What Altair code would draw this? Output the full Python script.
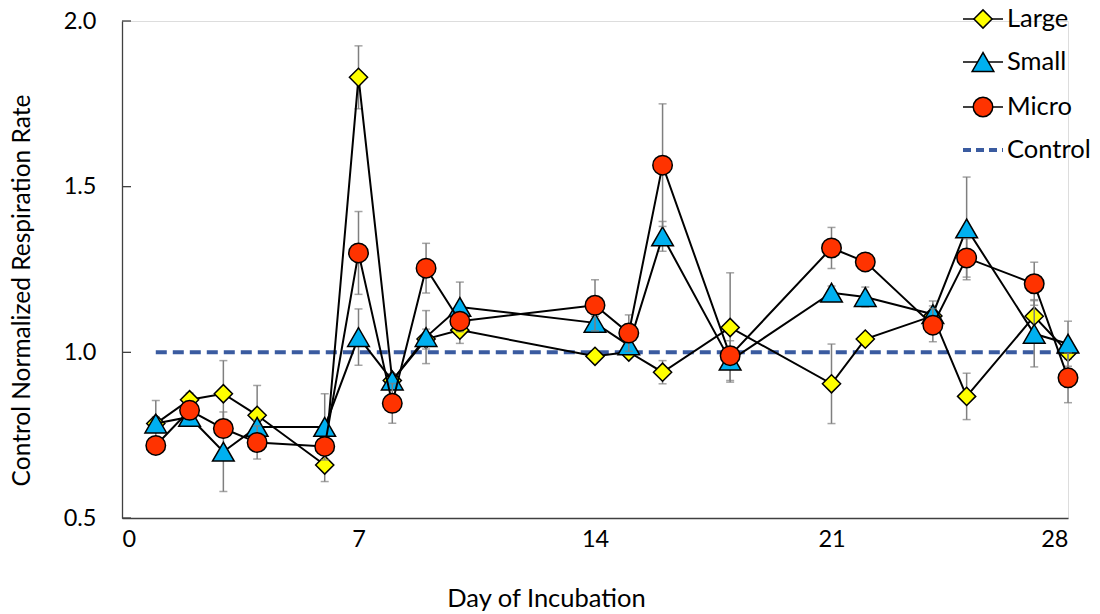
import altair as alt
import pandas as pd

days = [1, 2, 3, 4, 6, 7, 8, 9, 10, 14, 15, 16, 18, 21, 22, 24, 25, 27, 28]

large = [0.785, 0.857, 0.875, 0.81, 0.66, 1.83, 0.915, 1.04, 1.067, 0.988, 1.001, 0.94, 1.075, 0.905, 1.04, 1.11, 0.867, 1.109, 1.0]
large_err = [0.02, 0.02, 0.10, 0.09, 0.05, 0.095, 0.02, 0.03, 0.04, 0.01, 0.01, 0.035, 0.165, 0.12, 0.01, 0.03, 0.07, 0.05, 0.02]

small = [0.785, 0.805, 0.70, 0.775, 0.775, 1.046, 0.915, 1.046, 1.137, 1.089, 1.021, 1.35, 0.975, 1.18, 1.167, 1.115, 1.374, 1.056, 1.026]
small_err = [0.07, 0.02, 0.12, 0.02, 0.10, 0.085, 0.02, 0.08, 0.075, 0.02, 0.02, 0.045, 0.06, 0.02, 0.03, 0.04, 0.155, 0.10, 0.068]

micro = [0.719, 0.825, 0.77, 0.728, 0.716, 1.30, 0.846, 1.254, 1.094, 1.142, 1.058, 1.565, 0.99, 1.315, 1.273, 1.082, 1.285, 1.207, 0.923]
micro_err = [0.02, 0.02, 0.02, 0.05, 0.02, 0.125, 0.06, 0.075, 0.02, 0.077, 0.055, 0.185, 0.02, 0.062, 0.01, 0.05, 0.058, 0.065, 0.075]

series_names = ["Large", "Small", "Micro"]
series_fill = ["#FFFF00", "#00B0F0", "#FF3300"]
series_shape = ["diamond", "triangle-up", "circle"]
series_size = [330, 470, 380]

control_value = 1.0
control_days = [1, 28]
legend_names = ["Large", "Small", "Micro", "Control"]

y_ticks = [0.5, 1.0, 1.5, 2.0]
x_ticks = [0, 7, 14, 21, 28]

FONT = "Lato"
W, H = 946, 497

xs = alt.Scale(domain=[0, 28], nice=False, zero=False)
ys = alt.Scale(domain=[0.5, 2.0], nice=False, zero=False)

rows = []
for name, vals, errs in [("Large", large, large_err), ("Small", small, small_err), ("Micro", micro, micro_err)]:
    for d, v, e in zip(days, vals, errs):
        rows.append({"series": name, "day": d, "value": v, "lo": v - e, "hi": v + e})
df = pd.DataFrame(rows)

layers = []

base_axes = alt.Chart(pd.DataFrame({"day": [0], "value": [0.5]})).mark_point(opacity=0).encode(
    x=alt.X("day:Q", scale=xs, axis=alt.Axis(
        values=x_ticks, title="Day of Incubation", ticks=False, grid=False,
        labelFontSize=23.5, labelFont=FONT, labelColor="#000000", labelPadding=9,
        titleFontSize=25.5, titleFont=FONT, titleFontWeight="normal", titleColor="#000000",
        titleX=424, titleY=80, titleBaseline="middle",
        domainColor="#404040", domainWidth=1.3)),
    y=alt.Y("value:Q", scale=ys, axis=alt.Axis(
        values=y_ticks, format=".1f", title="Control Normalized Respiration Rate", ticks=False, grid=False,
        labelFontSize=23.5, labelFont=FONT, labelColor="#000000", labelPadding=26,
        titleFontSize=24.5, titleFont=FONT, titleFontWeight="normal", titleColor="#000000",
        titleX=-100, titleY=269, titleAngle=-90, titleBaseline="middle", titleAlign="center",
        domainColor="#404040", domainWidth=1.3)),
)
layers.append(base_axes)

tick_df = pd.DataFrame({"value": y_ticks})
layers.append(alt.Chart(tick_df).mark_rule(color="#404040", strokeWidth=1.3).encode(
    x=alt.value(0), x2=alt.value(9), y=alt.Y("value:Q", scale=ys)))

ctrl_df = pd.DataFrame({"day": [control_days[0]], "day2": [control_days[1]], "value": [control_value]})
layers.append(alt.Chart(ctrl_df).mark_rule(color="#3A5BA0", strokeWidth=4, strokeDash=[11, 6]).encode(
    x=alt.X("day:Q", scale=xs), x2="day2:Q", y=alt.Y("value:Q", scale=ys)))

for name, fill, shape, size in zip(series_names, series_fill, series_shape, series_size):
    sub = df[df.series == name]
    ch = alt.Chart(sub)
    layers.append(ch.mark_rule(color="#7F7F7F", strokeWidth=1.5).encode(
        x=alt.X("day:Q", scale=xs), y=alt.Y("lo:Q", scale=ys), y2="hi:Q"))
    layers.append(ch.mark_tick(color="#7F7F7F", thickness=1.5, size=8, orient="horizontal").encode(
        x=alt.X("day:Q", scale=xs), y=alt.Y("lo:Q", scale=ys)))
    layers.append(ch.mark_tick(color="#7F7F7F", thickness=1.5, size=8, orient="horizontal").encode(
        x=alt.X("day:Q", scale=xs), y=alt.Y("hi:Q", scale=ys)))
    layers.append(ch.mark_line(color="#000000", strokeWidth=2).encode(
        x=alt.X("day:Q", scale=xs), y=alt.Y("value:Q", scale=ys), order="day:Q"))
    layers.append(ch.mark_point(shape=shape, filled=True, fill=fill, stroke="#000000",
                                strokeWidth=1.5, size=size, opacity=1).encode(
        x=alt.X("day:Q", scale=xs), y=alt.Y("value:Q", scale=ys)))

leg_y = [-2, 41, 86, 129]
lx0, lx1, lsym, ltext = 841, 881, 861, 885
for i, name in enumerate(legend_names):
    ldf = pd.DataFrame({"label": [name]})
    lc = alt.Chart(ldf)
    if name == "Control":
        layers.append(lc.mark_rule(color="#3A5BA0", strokeWidth=4, strokeDash=[8, 5]).encode(
            x=alt.value(lx0), x2=alt.value(lx1), y=alt.value(leg_y[i])))
    else:
        layers.append(lc.mark_rule(color="#000000", strokeWidth=1.5).encode(
            x=alt.value(lx0), x2=alt.value(lx1), y=alt.value(leg_y[i])))
        layers.append(lc.mark_point(shape=series_shape[i], filled=True, fill=series_fill[i],
                                    stroke="#000000", strokeWidth=1.5, size=series_size[i], opacity=1).encode(
            x=alt.value(lsym), y=alt.value(leg_y[i])))
    layers.append(lc.mark_text(align="left", baseline="middle", font=FONT, fontSize=25.5, color="#000000").encode(
        x=alt.value(ltext), y=alt.value(leg_y[i]), text="label:N"))

chart = alt.layer(*layers).properties(
    width=W, height=H,
    autosize=alt.AutoSizeParams(type="none"),
    padding={"left": 122, "top": 21, "right": 32, "bottom": 96},
).configure_view(stroke=None).configure(background="#FFFFFF")

chart.save("out.html", embed_options={"renderer": "svg", "actions": False})
